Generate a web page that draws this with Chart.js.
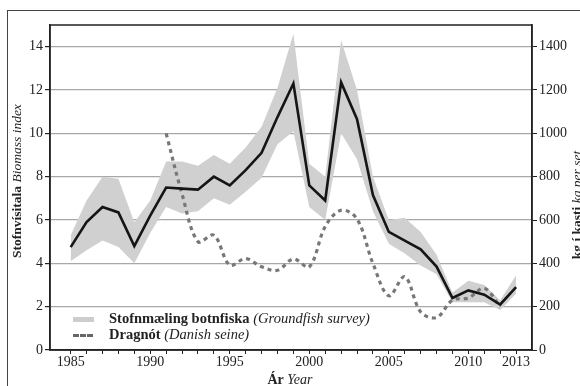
<!DOCTYPE html>
<html>
<head>
<meta charset="utf-8">
<script src="https://cdn.jsdelivr.net/npm/chart.js@4"></script>
<style>
    html, body { margin: 0; padding: 0; background: #fff; }
    #wrap { position: relative; width: 580px; height: 386px; overflow: hidden; font-family: "Liberation Serif", "DejaVu Serif", serif; color: #222; }
    #frame { position: absolute; left: 7px; top: 10px; width: 600px; height: 400px; border-left: 1px solid #444; border-top: 1px solid #444; }
    canvas { position: absolute; left: 0; top: 0; }
    .rot { position: absolute; white-space: nowrap; font-size: 13.5px; line-height: 16px; transform-origin: center center; }
    .leg { position: absolute; white-space: nowrap; font-size: 14.5px; line-height: 16px; }
    b { font-weight: bold; }
    i { font-style: italic; }
</style>
</head>
<body>
<div id="wrap">
    <div id="frame"></div>
    <canvas id="chart" width="580" height="386"></canvas>
    <div class="rot" id="ytitle" style="left:-68px; top:173px; width:170px; text-align:center; transform: rotate(-90deg);"><b>Stofnvísitala</b> <i>Biomass index</i></div>
    <div class="rot" id="y2title" style="left:502px; top:197px; width:150px; text-align:center; transform: rotate(-90deg);"><b>kg í kasti</b> <i>kg per set</i></div>
    <div class="rot" style="left:240px; top:372px; width:100px; text-align:center; font-size:14px;"><b>Ár</b> <i>Year</i></div>
    <div class="leg" style="left:73px; top:310px;"><span style="display:inline-block; width:21px; height:5px; background:#cdcdcd; vertical-align:middle; margin-right:15px;"></span><b>Stofnmæling botnfiska</b> <i>(Groundfish survey)</i></div>
    <div class="leg" style="left:73px; top:326px;"><span style="display:inline-block; width:20px; height:0; border-top:3px dashed #666; vertical-align:middle; margin-right:16px;"></span><b>Dragnót</b> <i>(Danish seine)</i></div>
</div>
<script>
// ár / year
const years = [1985, 1986, 1987, 1988, 1989, 1990, 1991, 1992, 1993, 1994, 1995, 1996, 1997, 1998, 1999,
    2000, 2001, 2002, 2003, 2004, 2005, 2006, 2007, 2008, 2009, 2010, 2011, 2012, 2013];

// stofnvísitala (biomass index)
const surveyIndex = [4.75, 5.9, 6.6, 6.35, 4.8, 6.2, 7.5, 7.45, 7.4, 8.0, 7.6, 8.3, 9.1, 10.75, 12.3,
    7.6, 6.9, 12.35, 10.65, 7.15, 5.45, 5.05, 4.65, 3.85, 2.4, 2.75, 2.55, 2.1, 2.9];
const surveyUpper = [5.3, 6.9, 8.0, 7.9, 5.9, 6.9, 8.7, 8.7, 8.5, 9.0, 8.6, 9.35, 10.3, 12.1, 14.6,
    8.6, 8.0, 14.3, 12.0, 8.0, 6.0, 6.1, 5.45, 4.4, 2.65, 3.2, 3.0, 2.3, 3.45];
const surveyLower = [4.1, 4.6, 5.05, 4.75, 4.0, 5.4, 6.6, 6.3, 6.4, 7.0, 6.7, 7.3, 7.95, 9.5, 10.1,
    6.6, 6.0, 10.0, 8.8, 6.4, 4.9, 4.45, 3.9, 3.5, 2.2, 2.2, 2.2, 1.85, 2.6];

// dragnót kg í kasti (Danish seine, kg per set), 1991-2012
const seineYears = [1991, 1992, 1993, 1994, 1995, 1996, 1997, 1998, 1999, 2000, 2001,
    2002, 2003, 2004, 2005, 2006, 2007, 2008, 2009, 2010, 2011, 2012];
const seineKg = [1000, 720, 500, 530, 392, 422, 384, 368, 420, 384, 570,
    645, 605, 400, 250, 338, 176, 150, 230, 240, 285, 200];

const xLabelYears = [1985, 1990, 1995, 2000, 2005, 2010, 2013];
const leftTicks = [0, 2, 4, 6, 8, 10, 12, 14];
const rightTicks = [0, 200, 400, 600, 800, 1000, 1200, 1400];

const pts = (xs, ys) => xs.map((x, k) => ({ x: x, y: ys[k] }));

const tickFont = { family: '"Liberation Serif", serif', size: 14 };

// ramma utan um teiknisvæðið
const borderPlugin = {
    id: 'plotBorder',
    afterDraw(chart) {
        const a = chart.chartArea;
        const ctx = chart.ctx;
        ctx.save();
        ctx.strokeStyle = '#222';
        ctx.lineWidth = 1.5;
        ctx.strokeRect(a.left, a.top, a.right - a.left, a.bottom - a.top);
        ctx.restore();
    }
};

new Chart(document.getElementById('chart'), {
    type: 'line',
    data: {
        datasets: [
            {
                label: 'upper',
                data: pts(years, surveyUpper),
                borderWidth: 0,
                pointRadius: 0,
                backgroundColor: '#d0d0d0',
                fill: '+1',
                yAxisID: 'y',
                order: 3
            },
            {
                label: 'lower',
                data: pts(years, surveyLower),
                borderWidth: 0,
                pointRadius: 0,
                fill: false,
                yAxisID: 'y',
                order: 3
            },
            {
                label: 'Dragnót',
                data: pts(seineYears, seineKg),
                borderColor: '#777',
                borderWidth: 3.2,
                borderDash: [4, 4],
                pointRadius: 0,
                tension: 0.35,
                fill: false,
                yAxisID: 'y2',
                order: 2
            },
            {
                label: 'Stofnmæling botnfiska',
                data: pts(years, surveyIndex),
                borderColor: '#151515',
                borderWidth: 2.6,
                pointRadius: 0,
                tension: 0,
                fill: false,
                yAxisID: 'y',
                order: 1
            }
        ]
    },
    options: {
        responsive: false,
        animation: false,
        layout: { padding: { top: 25, left: 0, right: 0, bottom: 0 } },
        plugins: { legend: { display: false }, tooltip: { enabled: false } },
        scales: {
            x: {
                type: 'linear',
                min: 1983.7,
                max: 2014,
                afterBuildTicks: s => { s.ticks = years.map(v => ({ value: v })); },
                afterFit: s => { s.height = 36; },
                ticks: {
                    autoSkip: false,
                    maxRotation: 0,
                    padding: 0,
                    color: '#222',
                    font: tickFont,
                    callback: v => xLabelYears.includes(v) ? String(v) : ''
                },
                grid: { drawOnChartArea: false, tickLength: 4, tickColor: '#222' },
                border: { color: '#222', width: 1.5 }
            },
            y: {
                position: 'left',
                min: 0,
                max: 15,
                afterBuildTicks: s => { s.ticks = leftTicks.map(v => ({ value: v })); },
                afterFit: s => { s.width = 50; },
                ticks: { padding: 2, color: '#222', font: tickFont },
                grid: { color: '#a8a8a8', lineWidth: 1.2, tickLength: 5, tickColor: '#222' },
                border: { color: '#222', width: 1.5 }
            },
            y2: {
                position: 'right',
                min: 0,
                max: 1500,
                afterBuildTicks: s => { s.ticks = rightTicks.map(v => ({ value: v })); },
                afterFit: s => { s.width = 48; },
                ticks: { padding: 2, color: '#222', font: tickFont, callback: v => String(v) },
                grid: { drawOnChartArea: false, tickLength: 5, tickColor: '#222' },
                border: { color: '#222', width: 1.5 }
            }
        }
    },
    plugins: [borderPlugin]
});
</script>
</body>
</html>
